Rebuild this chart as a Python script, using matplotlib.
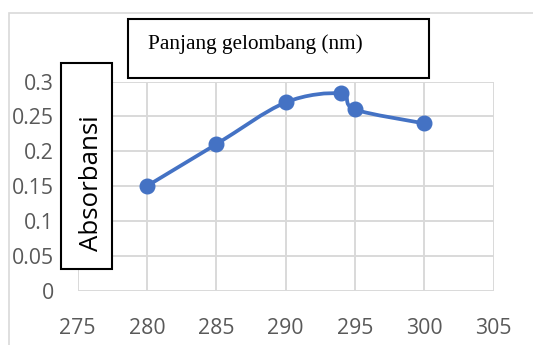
import numpy as np
import matplotlib
matplotlib.use("Agg")
import matplotlib.pyplot as plt
from matplotlib.patches import Rectangle
from matplotlib.path import Path
from matplotlib.patches import PathPatch

wavelength = [280, 285, 290, 294, 295, 300]
absorbance = [0.15, 0.21, 0.27, 0.283, 0.26, 0.24]
x_ticks = [275, 280, 285, 290, 295, 300, 305]
y_ticks = [0, 0.05, 0.1, 0.15, 0.2, 0.25, 0.3]
y_tick_labels = ["0", "0.05", "0.1", "0.15", "0.2", "0.25", "0.3"]
title_text = "Panjang gelombang (nm)"
ylabel_text = "Absorbansi"

W, H = 533, 345
DPI = 100
fig = plt.figure(figsize=(W / DPI, H / DPI), dpi=DPI)
fig.patch.set_facecolor("white")

def fx(px):
    return px / W

def fy(py):
    return 1 - py / H

# outer chart-area border
fig.add_artist(Rectangle((fx(8.5), fy(360)), fx(560) - fx(8.5), fy(12.6) - fy(360),
                         transform=fig.transFigure, fill=False,
                         edgecolor="#d9d9d9", lw=1.2))

L, R, T, B = 77.5, 493.5, 81.6, 290.6
ax = fig.add_axes([fx(L), fy(B), fx(R) - fx(L), fy(T) - fy(B)])
ax.set_xlim(275, 305)
ax.set_ylim(0, 0.3)
ax.set_xticks(x_ticks)
ax.set_yticks(y_ticks)
ax.set_yticklabels(y_tick_labels)
ax.grid(True, color="#d9d9d9", lw=1.4)
for s in ax.spines.values():
    s.set_visible(False)
ax.tick_params(length=0, labelsize=15.3, labelcolor="#595959")
ax.tick_params(axis="y", pad=17)
ax.tick_params(axis="x", pad=20)
for lab in ax.get_xticklabels() + ax.get_yticklabels():
    lab.set_fontfamily("Open Sans")
ax.set_axisbelow(True)

# Excel-like smoothed line (Bezier with Catmull-Rom control points)
pts = np.column_stack([wavelength, absorbance]).astype(float)
n = len(pts)
verts = [pts[0]]
codes = [Path.MOVETO]
for i in range(n - 1):
    p0 = pts[i - 1] if i > 0 else pts[i]
    p1 = pts[i]
    p2 = pts[i + 1]
    p3 = pts[i + 2] if i + 2 < n else pts[i + 1]
    c1 = p1 + (p2 - p0) / 6
    c2 = p2 - (p3 - p1) / 6
    verts += [c1, c2, p2]
    codes += [Path.CURVE4] * 3
ax.add_patch(PathPatch(Path(verts, codes), fill=False, edgecolor="#4472C4",
                       lw=2.7, capstyle="round", joinstyle="round", zorder=3))
ax.plot(wavelength, absorbance, "o", color="#4472C4", ms=10.5, zorder=4)

# title box
fig.add_artist(Rectangle((fx(127.8), fy(78.2)), fx(429.3) - fx(127.8), fy(18.7) - fy(78.2),
                         transform=fig.transFigure, facecolor="white",
                         edgecolor="black", lw=1.5, zorder=10))
fig.text(fx(148), fy(49.3), title_text, family="Liberation Serif", fontsize=15.3,
         ha="left", va="baseline", color="black", zorder=11)

# y-label box
fig.add_artist(Rectangle((fx(61.2), fy(269.2)), fx(111.5) - fx(61.2), fy(62.9) - fy(269.2),
                         transform=fig.transFigure, facecolor="white",
                         edgecolor="black", lw=1.5, zorder=10))
fig.text(fx(91.5), fy(183), ylabel_text, family="Open Sans", fontsize=18.6,
         rotation=90, ha="center", va="center", color="black", zorder=11)

fig.savefig("out.png", dpi=DPI)
